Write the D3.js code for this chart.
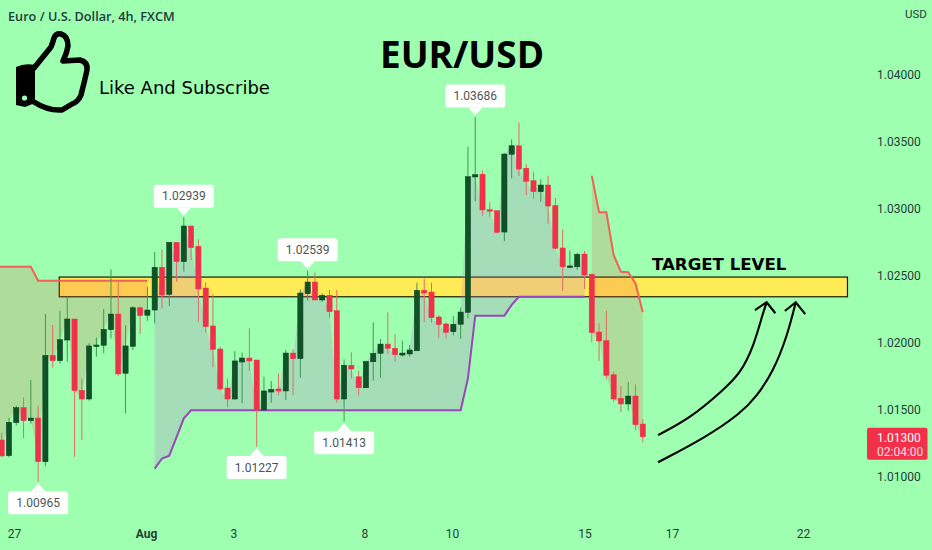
<!DOCTYPE html>
<html>
<head>
<meta charset="utf-8">
<script src="https://cdn.jsdelivr.net/npm/d3@7/dist/d3.min.js"></script>
<style>
html,body{margin:0;padding:0;background:#9effb0;overflow:hidden}
svg{display:block}
</style>
</head>
<body>
<svg id="chart" width="932" height="550"></svg>
<script>
const candleHigh=[1.01330,1.01442,1.01532,1.01595,1.01724,1.01532,1.02216,1.02134,1.02241,1.02345,
1.02179,1.01736,1.01998,1.02040,1.02254,1.02550,1.02465,1.02132,1.02276,1.02271,
1.02420,1.02679,1.02701,1.02751,1.02754,1.02939,1.02873,1.02774,1.02453,1.02363,
1.01972,1.01736,1.01940,1.01928,1.02110,1.01873,1.01748,1.01716,1.01774,1.01948,
1.01953,1.02401,1.02539,1.02525,1.02371,1.02396,1.02396,1.01878,1.01930,1.01793,
1.01863,1.02154,1.02030,1.02229,1.02065,1.02017,1.01985,1.02450,1.02480,1.02450,
1.02209,1.02154,1.02201,1.02266,1.03465,1.03686,1.03286,1.03050,1.02987,1.03416,
1.03520,1.03647,1.03334,1.03274,1.03222,1.03248,1.03084,1.02848,1.02689,1.02674,
1.02687,1.02520,1.02147,1.02241,1.01786,1.01679,1.01709,1.01692,1.01431];
const candleOpen=[1.01276,1.01159,1.01405,1.01517,1.01420,1.01440,1.01114,1.01908,1.01868,1.02022,
1.02179,1.01647,1.01582,1.01975,1.01983,1.02099,1.02216,1.01774,1.01975,1.02263,
1.02207,1.02246,1.02565,1.02363,1.02751,1.02607,1.02873,1.02722,1.02410,1.02127,
1.01955,1.01664,1.01582,1.01858,1.01888,1.01873,1.01500,1.01634,1.01657,1.01642,
1.01925,1.01883,1.02368,1.02455,1.02321,1.02356,1.02241,1.01582,1.01834,1.01748,
1.01666,1.01860,1.01923,1.01992,1.01960,1.01910,1.01918,1.01942,1.02393,1.02380,
1.02194,1.02142,1.02084,1.02140,1.02229,1.03239,1.03259,1.02995,1.02987,1.02828,
1.03408,1.03472,1.03304,1.03211,1.03129,1.03179,1.03025,1.02709,1.02565,1.02569,
1.02664,1.02513,1.02082,1.02017,1.01763,1.01587,1.01545,1.01604,1.01395];
const candleClose=[1.01157,1.01408,1.01517,1.01420,1.01440,1.01114,1.01908,1.01868,1.02025,1.02179,
1.01644,1.01582,1.01978,1.01985,1.02102,1.02216,1.01769,1.01978,1.02263,1.02204,
1.02246,1.02565,1.02358,1.02751,1.02607,1.02873,1.02711,1.02403,1.02122,1.01953,
1.01657,1.01582,1.01866,1.01888,1.01866,1.01500,1.01642,1.01654,1.01642,1.01925,
1.01883,1.02373,1.02455,1.02321,1.02356,1.02234,1.01582,1.01834,1.01806,1.01666,
1.01863,1.01923,1.01992,1.01960,1.01913,1.01925,1.01948,1.02393,1.02373,1.02189,
1.02137,1.02080,1.02140,1.02231,1.03241,1.03256,1.02993,1.02985,1.02826,1.03410,
1.03472,1.03298,1.03207,1.03129,1.03179,1.03022,1.02707,1.02569,1.02575,1.02662,
1.02507,1.02077,1.02015,1.01759,1.01582,1.01545,1.01604,1.01390,1.01300];
const candleLow=[1.01149,1.01147,1.01383,1.01289,1.01398,1.00965,1.01082,1.01816,1.01845,1.01860,
1.01151,1.01276,1.01569,1.01898,1.01923,1.02035,1.01754,1.01475,1.01948,1.02067,
1.02166,1.02147,1.02259,1.02276,1.02457,1.02532,1.02619,1.02159,1.02077,1.01819,
1.01642,1.01520,1.01575,1.01550,1.01793,1.01227,1.01495,1.01554,1.01612,1.01575,
1.01612,1.01741,1.02316,1.02321,1.02308,1.02189,1.01554,1.01413,1.01736,1.01607,
1.01666,1.01719,1.01741,1.01918,1.01860,1.01898,1.01898,1.01940,1.02157,1.02151,
1.02035,1.02035,1.02057,1.02030,1.02184,1.03060,1.02950,1.02943,1.02819,1.02761,
1.03229,1.03246,1.03104,1.03075,1.03054,1.02890,1.02699,1.02390,1.02562,1.02545,
1.02403,1.02005,1.01866,1.01729,1.01562,1.01483,1.01495,1.01351,1.01259];

// trailing stop segments: first candle index + one value per candle
const stopFirstStart=0;
const stopFirst=[1.02569,1.02569,1.02569,1.02569,1.02569,1.02465,1.02465,1.02465,1.02465,1.02465,1.02465,1.02465,1.02465,1.02465,1.02465,1.02465,1.02465,1.02465,1.02465,1.02465,1.02465];
const stopSecondStart=21;
const stopSecond=[1.01062,1.01138,1.01159,1.01298,1.01438,1.01498,1.01498,1.01498,1.01498,1.01498,1.01498,1.01498,1.01498,1.01498,1.01498,1.01498,1.01498,1.01498,1.01498,1.01498,1.01498,1.01498,1.01498,1.01498,1.01498,1.01498,1.01498,1.01498,1.01498,1.01498,1.01498,1.01498,1.01498,1.01498,1.01498,1.01498,1.01498,1.01498,1.01498,1.01498,1.01498,1.01498,1.01498,1.01736,1.02204,1.02204,1.02204,1.02204,1.02204,1.02284,1.02345,1.02345,1.02345,1.02345,1.02345,1.02345,1.02345,1.02345,1.02345,1.02345];
const stopThirdStart=81;
const stopThird=[1.03249,1.02975,1.02975,1.02657,1.02532,1.02528,1.02445,1.02229];

const priceTicks=[1.01,1.015,1.02,1.025,1.03,1.035,1.04];
const timeTickIndex=[1.7,19.8,31.8,49.8,61.8,80,92,110];
const timeTickLabels=["27","Aug","3","8","10","15","17","22"];
const calloutIndex=[5,25,35,42,47,65];
const calloutPrice=[1.00965,1.02939,1.01227,1.02539,1.01413,1.03686];
const calloutSide=["low","high","low","high","low","high"];
const targetZone=[1.02492,1.02345];
const targetZoneIndex=[7.9,116.1];
const lastPrice=1.01300;
const countdown="02:04:00";
const arrowOnePath=[[90.1,1.01313],[94.5,1.01438],[99.05,1.01649],[101.4,1.01774],[103.2,1.01972],[104.5,1.02224],[105.0,1.02304]];
const arrowOneHead=[[103.4,1.02246],[105.0,1.02304],[106.2,1.02222]];
const arrowTwoPath=[[90.1,1.01110],[96.8,1.01301],[101.4,1.01475],[103.6,1.01599],[105.9,1.01786],[107.8,1.02047],[109.0,1.02304]];
const arrowTwoHead=[[107.5,1.02239],[109.0,1.02304],[110.3,1.02216]];

const svg=d3.select("#chart");
const W=932,H=550;
const x=d3.scaleLinear().domain([0,100]).range([1.7,730.2]);
const y=d3.scaleLinear().domain([1.01,1.04]).range([477,75]);
const BG="#9effb0",GREEN="#0f5227",GREENW="#3d9a50",RED="#f0314a",REDW="#de6f62",TXT="#24403a";
const font="Roboto, 'Liberation Sans', sans-serif";

svg.append("rect").attr("width",W).attr("height",H).attr("fill",BG);

// target zone
svg.append("rect")
  .attr("x",x(targetZoneIndex[0])).attr("width",x(targetZoneIndex[1])-x(targetZoneIndex[0]))
  .attr("y",y(targetZone[0])).attr("height",y(targetZone[1])-y(targetZone[0]))
  .attr("fill","#ffeb55").attr("stroke","#1a1a00").attr("stroke-width",1.2);

// stop segments & fills
const segments=[
  {start:stopFirstStart,vals:stopFirst,line:"#f2605a",fill:"rgba(240,80,70,0.2)"},
  {start:stopSecondStart,vals:stopSecond,line:"#9a45b8",fill:"rgba(190,120,210,0.25)"},
  {start:stopThirdStart,vals:stopThird,line:"#f2605a",fill:"rgba(240,80,70,0.2)"}
];
const px=i=>i===0?x(-0.25):x(i);
segments.forEach(s=>{
  const idx=s.vals.map((_,k)=>k+s.start);
  svg.append("path").datum(idx)
    .attr("d",d3.area().x(px).y0(i=>y(candleClose[i])).y1(i=>y(s.vals[i-s.start])))
    .attr("fill",s.fill);
  svg.append("path").datum(idx)
    .attr("d",d3.line().x(px).y(i=>y(s.vals[i-s.start])))
    .attr("fill","none").attr("stroke",s.line).attr("stroke-width",2);
});

// candles
const candles=svg.append("g").selectAll("g").data(candleOpen.map((_,i)=>i)).join("g");
const up=i=>candleClose[i]>=candleOpen[i];
candles.append("line")
  .attr("x1",x).attr("x2",x)
  .attr("y1",i=>y(candleHigh[i])).attr("y2",i=>y(candleLow[i]))
  .attr("stroke",i=>up(i)?GREENW:REDW).attr("stroke-width",1);
candles.append("rect")
  .attr("x",i=>x(i)-2.6).attr("width",5.2)
  .attr("y",i=>y(Math.max(candleOpen[i],candleClose[i])))
  .attr("height",i=>Math.max(1.5,Math.abs(y(candleOpen[i])-y(candleClose[i]))))
  .attr("fill",i=>up(i)?GREEN:RED)
  .attr("stroke",i=>up(i)?"#0a3d1c":RED).attr("stroke-width",0.5);

// callouts
calloutIndex.forEach((ci,k)=>{
  const cx=x(ci),hi=calloutSide[k]==="high",py=y(calloutPrice[k])+(hi?-1.5:1.5);
  const bw=60,bh=23,gap=8,dir=hi?-1:1;
  const by=py+dir*gap;
  const g=svg.append("g");
  g.append("path").attr("d",d3.line()([[cx,py],[cx-7,by],[cx+7,by]])+"Z").attr("fill","#fff");
  g.append("rect").attr("x",cx-bw/2).attr("width",bw).attr("y",hi?by-bh:by).attr("height",bh).attr("rx",2.5).attr("fill","#fff");
  g.append("text").attr("x",cx).attr("y",(hi?by-bh/2:by+bh/2)+4.2).attr("text-anchor","middle")
    .attr("font-family",font).attr("font-size",12).attr("fill","#4a5555").text(calloutPrice[k].toFixed(5));
});

// y axis
const yAxis=svg.append("g").attr("transform","translate(877,0)")
  .call(d3.axisRight(y).tickValues(priceTicks).tickFormat(d3.format(".5f")).tickSize(0).tickPadding(0));
yAxis.select(".domain").remove();
yAxis.selectAll("text").attr("font-family",font).attr("font-size",12).attr("fill",TXT);

// x axis
const xAxis=svg.append("g").attr("transform","translate(0,529)")
  .call(d3.axisBottom(x).tickValues(timeTickIndex).tickFormat((d,i)=>timeTickLabels[i]).tickSize(0).tickPadding(0));
xAxis.select(".domain").remove();
xAxis.selectAll("text").attr("font-family",font).attr("font-size",12).attr("fill",TXT)
  .attr("font-weight",(d,i)=>timeTickLabels[i]==="Aug"?"700":"400");

// last price tag
const tagY=y(lastPrice);
svg.append("rect").attr("x",867).attr("y",tagY-9).attr("width",60.5).attr("height",32).attr("rx",2).attr("fill","#f2304a");
svg.append("text").attr("x",877).attr("y",tagY+5.5).attr("font-family",font).attr("font-size",12).attr("fill","#fff").text(lastPrice.toFixed(5));
svg.append("text").attr("x",877).attr("y",tagY+19.5).attr("font-family",font).attr("font-size",12).attr("fill","#fff").attr("fill-opacity",0.85).text(countdown);

// titles
svg.append("text").attr("x",8).attr("y",21).attr("font-family","'Open Sans',sans-serif").attr("font-weight",600).attr("font-size",12.7).attr("fill","#1d3b3b").text("Euro / U.S. Dollar, 4h, FXCM");
svg.append("text").attr("x",905).attr("y",18).attr("font-family",font).attr("font-size",11.5).attr("fill",TXT).text("USD");
svg.append("text").attr("x",462).attr("y",68).attr("text-anchor","middle").attr("font-family","'Open Sans',sans-serif").attr("font-weight",700).attr("font-size",37).attr("fill","#000").text("EUR/USD");
svg.append("text").attr("x",99).attr("y",94).attr("font-family","'DejaVu Sans',sans-serif").attr("font-size",18).attr("fill","#000").text("Like And Subscribe");
svg.append("text").attr("x",652).attr("y",270).attr("font-family","'DejaVu Sans',sans-serif").attr("font-weight",700).attr("font-size",16.6).attr("fill","#000").text("TARGET LEVEL");

// thumb icon (decoration)
const thumb=svg.append("g");
thumb.append("path").attr("d","M34 68 L51 47 Q53 42 54 38 Q56 33 61 34 Q68 36 68 46 Q67 53 63 61 L80 60 Q88 62 87 70 L84 83 L81 95 Q78 102 72 104 L62 110 Q48 111 34 102")
  .attr("fill","none").attr("stroke","#000").attr("stroke-width",5.5).attr("stroke-linejoin","round").attr("stroke-linecap","round");
thumb.append("path").attr("d","M16 67 Q24 63 35 65 L35 103 L25 107 L16 105 Z").attr("fill","#000");
thumb.append("circle").attr("cx",24.5).attr("cy",98).attr("r",2.6).attr("fill",BG);

// arrows
const curve=d3.line().x(d=>x(d[0])).y(d=>y(d[1])).curve(d3.curveBasis);
const straight=d3.line().x(d=>x(d[0])).y(d=>y(d[1]));
[[arrowOnePath,arrowOneHead],[arrowTwoPath,arrowTwoHead]].forEach(([p,h])=>{
  svg.append("path").attr("d",curve(p)).attr("fill","none").attr("stroke","#000").attr("stroke-width",2.1);
  svg.append("path").attr("d",straight(h)).attr("fill","none").attr("stroke","#000").attr("stroke-width",2.1);
});
</script>
</body>
</html>
